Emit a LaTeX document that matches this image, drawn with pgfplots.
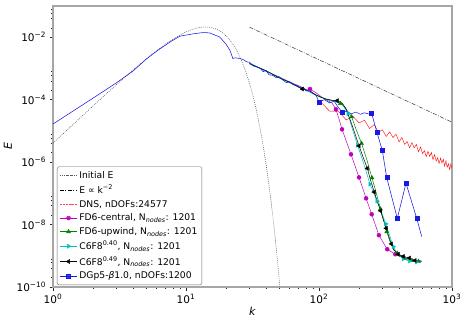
\documentclass[border=0pt]{standalone}
\usepackage{fontspec}
\setmainfont{DejaVu Sans}
\usepackage{pgfplots}
\pgfplotsset{compat=1.18}
\usetikzlibrary{calc}

\definecolor{mpm}{rgb}{0.75,0,0.75}
\definecolor{mpg}{rgb}{0,0.5,0}
\definecolor{mpc}{rgb}{0,0.75,0.75}
\definecolor{mpb}{rgb}{0.1,0.1,0.9}
\definecolor{mpr}{rgb}{1,0,0}

\begin{document}
\begin{tikzpicture}
\begin{axis}[
  scale only axis, width=399pt, height=281pt,
  xmode=log, ymode=log,
  xmin=1, xmax=1000, ymin=1e-10, ymax=1e-1,
  xtick={1,10,100,1000},
  xticklabels={10\textsuperscript{0},10\textsuperscript{1},10\textsuperscript{2},10\textsuperscript{3}},
  ytick={1e-10,1e-8,1e-6,1e-4,1e-2},
  yticklabels={10\textsuperscript{−10},10\textsuperscript{−8},10\textsuperscript{−6},10\textsuperscript{−4},10\textsuperscript{−2}},
  minor xtick={2,3,4,5,6,7,8,9,20,30,40,50,60,70,80,90,200,300,400,500,600,700,800,900},
  minor ytick={2e-10,4e-10,6e-10,8e-10,2e-8,4e-8,6e-8,8e-8,2e-6,4e-6,6e-6,8e-6,2e-4,4e-4,6e-4,8e-4,2e-2,4e-2,6e-2,8e-2},
  xtick pos=lower, ytick pos=left,
  tick align=outside, major tick length=3.5pt, minor tick length=2pt,
  tick style={black!85, line width=0.6pt},
  axis line style={black!35, line width=1.2pt},
  ticklabel style={font=\fontsize{10.5}{12}\selectfont},
  xlabel={\textit{k}}, ylabel={\textit{E}},
  label style={font=\fontsize{11}{13}\selectfont},
  xlabel style={at={(axis description cs:0.5,-0.085)}, anchor=center},
  ylabel style={at={(axis description cs:-0.113,0.5)}, anchor=center},
  legend cell align=left,
  legend style={at={(axis description cs:0.01,0.007)}, anchor=south west,
    draw=black!60, rounded corners=2pt, fill=white, fill opacity=0.85, text opacity=1,
    font=\fontsize{9.2}{10.5}\selectfont, inner sep=2.5pt, row sep=1.2pt},
]
\coordinate (bl) at (rel axis cs:0,0);
\coordinate (tr) at (rel axis cs:1,1);

% legend entries
\addlegendimage{black!65, line width=0.6pt, dash pattern=on 0.8pt off 1.2pt}
\addlegendentry{Initial E}
\addlegendimage{black, line width=0.5pt, dash pattern=on 4pt off 1.5pt on 0.8pt off 1.5pt}
\addlegendentry{E ∝ k\textsuperscript{−2}}
\addlegendimage{mpr!70, line width=0.5pt, dash pattern=on 2pt off 1pt}
\addlegendentry{DNS, nDOFs:24577}
\addlegendimage{mpm, line width=0.5pt, mark=*, mark size=2pt, mark options={solid}}
\addlegendentry{FD6-central, N\textsubscript{\textit{nodes}}: 1201}
\addlegendimage{mpg, line width=0.5pt, mark=triangle*, mark size=2.3pt, mark options={solid}}
\addlegendentry{FD6-upwind, N\textsubscript{\textit{nodes}}: 1201}
\addlegendimage{mpc, line width=0.5pt, mark=triangle*, mark size=2.3pt, mark options={solid, rotate=-90}}
\addlegendentry{C6F8\textsuperscript{0.40}, N\textsubscript{\textit{nodes}}: 1201}
\addlegendimage{black, line width=0.5pt, mark=triangle*, mark size=2.3pt, mark options={solid, rotate=90}}
\addlegendentry{C6F8\textsuperscript{0.49}, N\textsubscript{\textit{nodes}}: 1201}
\addlegendimage{mpb, line width=0.5pt, mark=square*, mark size=2pt, mark options={solid}}
\addlegendentry{DGp5-\textit{β}1.0, nDOFs:1200}

% Initial E
\addplot[forget plot, black!65, line width=0.6pt, dash pattern=on 0.8pt off 1.2pt] coordinates {
(1,4.06e-6) (2,6.30e-5) (3,3.03e-4) (4,8.92e-4) (5,1.99e-3) (6,3.68e-3) (7,5.97e-3)
(8,8.74e-3) (9,1.177e-2) (10,1.478e-2) (11,1.746e-2) (12,1.956e-2) (13,2.088e-2)
(14,2.131e-2) (15,2.090e-2) (16,1.972e-2) (17,1.794e-2) (18,1.578e-2) (19,1.343e-2)
(20,1.107e-2) (21,8.86e-3) (22,6.88e-3) (23,5.19e-3) (24,3.81e-3) (25,2.72e-3)
(26,1.89e-3) (28,8.46e-4) (30,3.41e-4) (31,2.08e-4) (32,1.247e-4) (34,4.13e-5)
(36,1.244e-5) (37,6.59e-6) (38,3.41e-6) (40,8.51e-7) (42,1.94e-7) (43,8.96e-8)
(44,4.05e-8) (46,7.69e-9) (48,1.34e-9) (49,5.41e-10) (50,2.14e-10) (52,3.1e-11)
};

% E ~ k^-2
\addplot[forget plot, black!80, line width=0.5pt, dash pattern=on 4pt off 1.5pt on 0.8pt off 1.5pt] coordinates {
(30,2.11e-2) (1000,1.9e-5)
};

% DNS
\addplot[forget plot, mpr, line width=0.4pt] coordinates {
(100,9.55e-5) (120,4.31e-5) (140,4.25e-5) (160,2.25e-5) (180,2.92e-5) (200,1.81e-5)
(220,2.18e-5) (240,1.19e-5) (260,1.59e-5) (280,9.14e-6) (300,1.08e-5) (320,6.61e-6)
(340,9.29e-6) (360,6.14e-6) (380,7.76e-6) (400,4.43e-6) (420,6.19e-6) (440,3.72e-6)
(460,4.55e-6) (480,2.88e-6) (500,4.19e-6) (520,2.84e-6) (540,3.68e-6) (560,2.14e-6)
(580,3.05e-6) (600,1.87e-6) (620,2.33e-6) (640,1.50e-6) (660,2.21e-6) (680,1.53e-6)
(700,2.02e-6) (720,1.20e-6) (740,1.74e-6) (760,1.08e-6) (780,1.37e-6) (800,8.97e-7)
(820,1.34e-6) (840,9.38e-7) (860,1.25e-6) (880,7.48e-7) (900,1.10e-6) (920,6.85e-7)
(940,8.81e-7) (960,5.79e-7) (980,8.75e-7) (1000,6.17e-7)
};

% FD6-central
\addplot[forget plot, mpm, line width=0.5pt] coordinates {
(30,1.48e-3) (40,8.13e-4) (50,5.37e-4) (60,3.72e-4) (70,2.82e-4) (80,2.14e-4)
(85.6,2.19e-4) (95,1.66e-4) (105,1.20e-4) (115,9.55e-5) (125,7.94e-5) (134,4.90e-5)
(141,2.51e-5) (149,1.12e-5) (174,1.78e-6) (200,3.24e-7) (226,6.92e-8) (249,2.14e-8)
(282,4.57e-9) (326,1.62e-9) (375,1.12e-9) (420,8.91e-10) (480,7.59e-10) (540,6.92e-10)
(592,6.76e-10)
};
\addplot[forget plot, only marks, mpm, mark=*, mark size=2pt] coordinates {
(85.6,2.19e-4) (134,4.90e-5) (149,1.12e-5) (174,1.78e-6) (200,3.24e-7) (226,6.92e-8)
(249,2.14e-8) (282,4.57e-9) (326,1.62e-9) (375,1.12e-9)
};

% FD6-upwind
\addplot[forget plot, mpg, line width=0.5pt] coordinates {
(30,1.45e-3) (40,8.32e-4) (50,5.13e-4) (60,3.63e-4) (70,2.51e-4) (80,2.04e-4)
(90,1.55e-4) (100,1.29e-4) (110,1.07e-4) (120,1.0e-4) (130,9.12e-5) (145,7.59e-5)
(157,5.62e-5) (176,2.82e-5) (190,1.12e-5) (209,3.98e-6) (230,1.12e-6) (250,3.16e-7)
(270,1.0e-7) (290,3.16e-8) (310,1.12e-8) (323,5.89e-9) (345,2.51e-9) (370,1.51e-9)
(388,1.20e-9) (440,8.32e-10) (500,7.08e-10) (560,6.61e-10) (592,6.76e-10)
};
\addplot[forget plot, only marks, mpg, mark=triangle*, mark size=2.3pt] coordinates {
(145,7.59e-5) (176,2.82e-5) (209,3.98e-6) (250,3.16e-7) (290,3.16e-8) (323,5.89e-9)
(388,1.20e-9) (440,8.32e-10) (500,7.08e-10) (560,6.61e-10)
};

% C6F8 0.40
\addplot[forget plot, mpc, line width=0.5pt] coordinates {
(30,1.51e-3) (40,7.94e-4) (50,5.37e-4) (60,3.47e-4) (70,2.69e-4) (80,1.95e-4)
(90,1.62e-4) (100,1.23e-4) (110,1.10e-4) (120,9.33e-5) (130,8.91e-5) (150,7.08e-5)
(165,3.55e-5) (180,1.0e-5) (195,3.47e-6) (215,1.0e-6) (242,1.95e-7) (273,5.62e-8)
(295,2.51e-8) (318,1.05e-8) (340,4.47e-9) (362,1.95e-9) (390,1.12e-9) (430,7.94e-10)
(480,6.76e-10) (540,6.31e-10) (592,6.61e-10)
};
\addplot[forget plot, only marks, mpc, mark=triangle*, mark size=2.3pt, mark options={rotate=-90}] coordinates {
(165,3.55e-5) (195,3.47e-6) (242,1.95e-7) (273,5.62e-8) (318,1.05e-8) (362,1.95e-9)
(430,7.94e-10) (480,6.76e-10) (540,6.31e-10)
};

% C6F8 0.49
\addplot[forget plot, black, line width=0.5pt] coordinates {
(30,1.41e-3) (40,8.51e-4) (50,5.01e-4) (60,3.63e-4) (75,2.19e-4) (85,1.91e-4)
(95,1.41e-4) (105,1.17e-4) (115,1.02e-4) (125,9.55e-5) (137,9.33e-5) (150,7.59e-5)
(160,5.01e-5) (170,2.51e-5) (180,1.26e-5) (190,6.31e-6) (200,3.31e-6) (215,1.41e-6)
(231,6.31e-7) (245,2.51e-7) (260,1.10e-7) (275,5.37e-8) (290,2.75e-8) (305,1.41e-8)
(320,7.59e-9) (335,4.17e-9) (350,2.40e-9) (362,1.58e-9) (394,1.12e-9) (430,9.55e-10)
(478,8.51e-10) (527,7.08e-10) (592,6.76e-10)
};
\addplot[forget plot, only marks, black, mark=triangle*, mark size=2.3pt, mark options={rotate=90}] coordinates {
(75,2.19e-4) (137,9.33e-5) (200,3.31e-6) (231,6.31e-7) (260,1.10e-7) (290,2.75e-8)
(320,7.59e-9) (350,2.40e-9) (394,1.12e-9) (430,9.55e-10) (478,8.51e-10) (527,7.08e-10)
};

% DGp5
\addplot[forget plot, mpb, line width=0.55pt] coordinates {
(1,1.66e-5) (2,1.12e-4) (3,3.47e-4) (4,8.3e-4) (5,1.95e-3) (6,3.55e-3) (7.6,7.08e-3)
(9,1.08e-2) (11,1.26e-2) (13.4,1.41e-2) (15,1.38e-2) (17.9,1.02e-2) (20,6.0e-3)
(21.4,3.8e-3) (22.5,2.09e-3) (23.5,2.19e-3) (25.4,2.09e-3) (27,1.91e-3) (28.7,1.62e-3)
(30,1.58e-3) (32,1.20e-3) (34,1.12e-3) (36,1.02e-3) (38,7.9e-4) (40,8.7e-4) (42,6.3e-4)
(45,6.0e-4) (48,5.0e-4) (50,5.4e-4) (53.6,4.2e-4) (57,3.5e-4) (60,3.8e-4) (64,3.0e-4)
(68,2.9e-4) (72,2.4e-4) (76,2.5e-4) (80,1.9e-4) (85,2.0e-4) (90,1.58e-4) (95,1.38e-4)
(100,8.5e-5) (110,1.0e-4) (120,7.9e-5) (130,8.9e-5) (140,5.6e-5) (150,3.9e-5)
(160,4.2e-5) (175,3.55e-5) (190,4.0e-5) (205,3.4e-5) (220,3.8e-5) (235,3.5e-5)
(249,3.6e-5) (272,9.3e-6) (299,2.4e-6) (323,3.2e-7) (388,1.58e-8) (451,2.1e-7)
(543,1.58e-8) (592,4.1e-9)
};
\addplot[forget plot, only marks, mpb, mark=square*, mark size=2pt] coordinates {
(100,8.5e-5) (150,3.9e-5) (249,3.6e-5) (272,9.3e-6) (299,2.4e-6) (323,3.2e-7)
(388,1.58e-8) (451,2.1e-7) (543,1.58e-8)
};
\end{axis}
\pgfresetboundingbox
\path[use as bounding box] ($(bl)+(-53pt,-33pt)$) rectangle ($(tr)+(10pt,6pt)$);
\end{tikzpicture}
\end{document}
